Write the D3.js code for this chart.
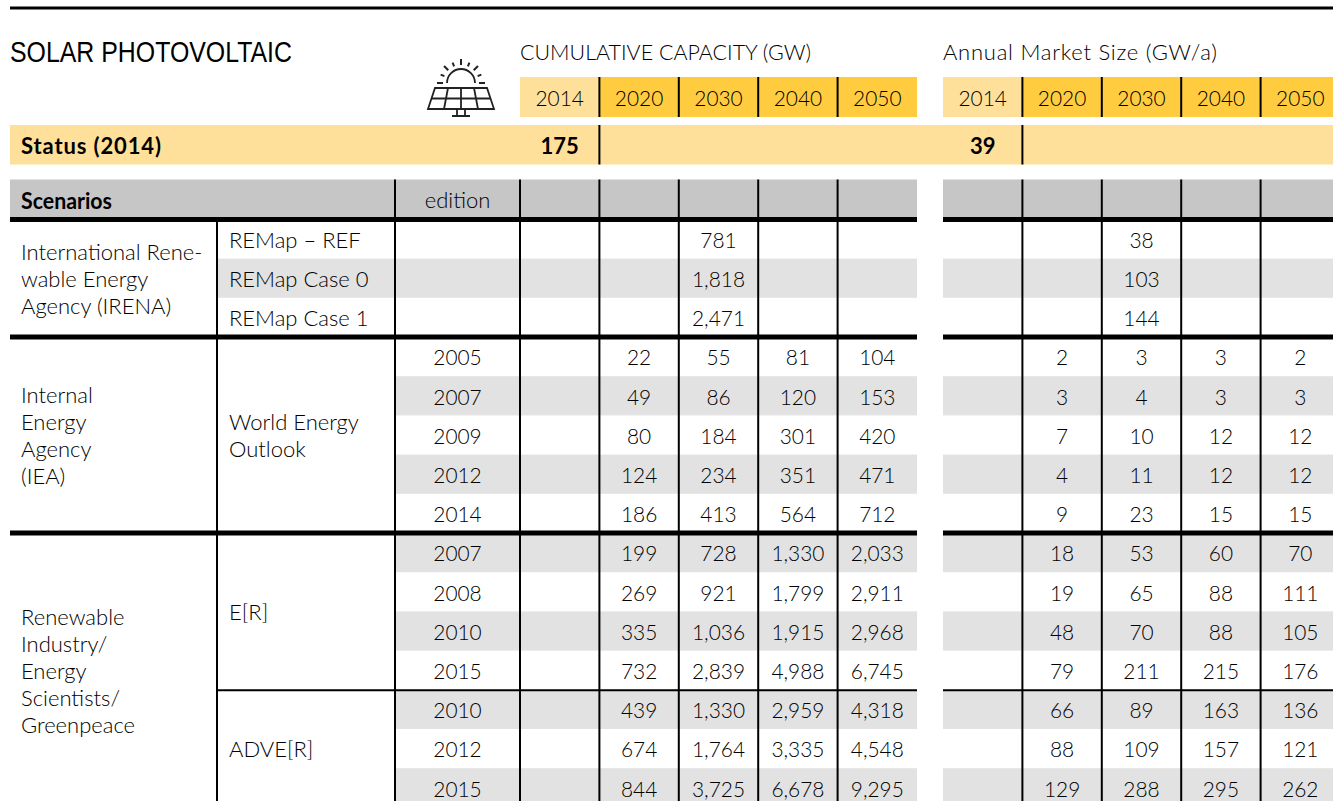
<!DOCTYPE html>
<html>
<head>
<meta charset="utf-8">
<script src="https://cdn.jsdelivr.net/npm/d3@7"></script>
<style>
  html, body { margin: 0; padding: 0; background: #fff; overflow: hidden; }
  svg { display: block; }
  text { font-family: Lato, "Open Sans", sans-serif; font-weight: 300; font-size: 22px; fill: #000; }
  .bold { font-weight: 700; }
  .title { font-family: "Liberation Sans", sans-serif; font-weight: 400; font-size: 29px; }
</style>
</head>
<body>
<div id="chart"></div>
<script>
// table content
const years = ["2014", "2020", "2030", "2040", "2050"];
const editions = ["", "", "", "2005", "2007", "2009", "2012", "2014", "2007", "2008", "2010", "2015", "2010", "2012", "2015"];
const shadedRows = [1, 4, 6, 8, 10, 12, 14];

const cum2020 = ["", "", "", "22", "49", "80", "124", "186", "199", "269", "335", "732", "439", "674", "844"];
const cum2030 = ["781", "1,818", "2,471", "55", "86", "184", "234", "413", "728", "921", "1,036", "2,839", "1,330", "1,764", "3,725"];
const cum2040 = ["", "", "", "81", "120", "301", "351", "564", "1,330", "1,799", "1,915", "4,988", "2,959", "3,335", "6,678"];
const cum2050 = ["", "", "", "104", "153", "420", "471", "712", "2,033", "2,911", "2,968", "6,745", "4,318", "4,548", "9,295"];

const ann2020 = ["", "", "", "2", "3", "7", "4", "9", "18", "19", "48", "79", "66", "88", "129"];
const ann2030 = ["38", "103", "144", "3", "4", "10", "11", "23", "53", "65", "70", "211", "89", "109", "288"];
const ann2040 = ["", "", "", "3", "3", "12", "12", "15", "60", "88", "88", "215", "163", "157", "295"];
const ann2050 = ["", "", "", "2", "3", "12", "12", "15", "70", "111", "105", "176", "136", "121", "262"];

const statusCum = "175";
const statusAnn = "39";

// [first row, last row, lines of text]
const groups = [
  [0, 2, ["International Rene-", "wable Energy", "Agency (IRENA)"]],
  [3, 7, ["Internal", "Energy", "Agency", "(IEA)"]],
  [8, 14, ["Renewable", "Industry/", "Energy", "Scientists/", "Greenpeace"]]
];
const subgroups = [
  [0, 0, ["REMap – REF"]],
  [1, 1, ["REMap Case 0"]],
  [2, 2, ["REMap Case 1"]],
  [3, 7, ["World Energy", "Outlook"]],
  [8, 11, ["E[R]"]],
  [12, 14, ["ADVE[R]"]]
];

// colours
const lightYellow = "#fee09a";
const darkYellow = "#ffcc40";
const headGrey = "#c6c6c6";
const rowGrey = "#e2e2e2";

// dimensions
const w = 1333;
const h = 801;
const left = 10;
const col1 = 217;
const col2 = 395;
const col3 = 520;
const lineH = 27;
const digitSqueeze = 0.95; // digits are a bit narrower than Lato's

const svg = d3.select("#chart").append("svg").attr("width", w).attr("height", h);

// scales
const rowIdx = d3.range(editions.length);
const yScale = d3.scaleBand().domain(rowIdx).range([219.4, 807.4]);
const xCum = d3.scaleBand().domain(years).range([col3, 917]);
const xAnn = d3.scaleBand().domain(years).range([943, 1340]);
const rowMid = i => yScale(i) + yScale.bandwidth() / 2;

// BACKGROUNDS
svg.append("rect").attr("x", left).attr("y", 6.5).attr("width", w - left).attr("height", 3).attr("fill", "#000");

// year header cells
[xCum, xAnn].forEach(x => {
  svg.append("g").selectAll("rect").data(years).enter().append("rect")
    .attr("x", d => x(d))
    .attr("y", 77)
    .attr("width", x.bandwidth())
    .attr("height", 40)
    .attr("fill", (d, i) => i === 0 ? lightYellow : darkYellow);
});

// status band
svg.append("rect").attr("x", left).attr("y", 125).attr("width", w - left).attr("height", 39.5).attr("fill", lightYellow);

// scenarios header
svg.append("rect").attr("x", left).attr("y", 179.5).attr("width", 917 - left).attr("height", 38).attr("fill", headGrey);
svg.append("rect").attr("x", 943).attr("y", 179.5).attr("width", w - 943).attr("height", 38).attr("fill", headGrey);

// shaded rows
const shade = svg.append("g");
shade.selectAll("rect.l").data(shadedRows).enter().append("rect").attr("class", "l")
  .attr("x", d => d < 3 ? col1 : col2)
  .attr("y", d => yScale(d))
  .attr("width", d => 917 - (d < 3 ? col1 : col2))
  .attr("height", yScale.bandwidth())
  .attr("fill", rowGrey);
shade.selectAll("rect.r").data(shadedRows).enter().append("rect").attr("class", "r")
  .attr("x", 943)
  .attr("y", d => yScale(d))
  .attr("width", w - 943)
  .attr("height", yScale.bandwidth())
  .attr("fill", rowGrey);

// RULES
const rules = svg.append("g").attr("stroke", "#000");
function vline(x, y1, y2) {
  rules.append("line").attr("x1", x).attr("x2", x).attr("y1", y1).attr("y2", y2).attr("stroke-width", 2);
}
function hline(x1, x2, y, sw) {
  rules.append("line").attr("x1", x1).attr("x2", x2).attr("y1", y).attr("y2", y).attr("stroke-width", sw);
}
vline(col1, 217, h);
vline(col2, 179.5, h);
vline(col3, 179.5, h);
[xCum, xAnn].forEach(x => {
  years.slice(1).forEach(yr => {
    vline(x(yr), 77, 117);
    if (yr === "2020") vline(x(yr), 125, 164.5);
    vline(x(yr), 179.5, h);
  });
});
[[left, 917], [943, w]].forEach(([a, b]) => {
  hline(a, b, 219.5, 5);
  hline(a, b, yScale(3), 5);
  hline(a, b, yScale(8), 5);
});
hline(col1, 917, yScale(12) + 0.4, 2);
hline(943, w, yScale(12) + 0.4, 2);

// TEXT
const txt = svg.append("g");
function label(x, y, s, anchor, cls) {
  return txt.append("text").attr("x", x).attr("y", y).attr("dy", "0.35em")
    .attr("text-anchor", anchor || "start").attr("class", cls || null).text(s);
}
// number label, squeezed sideways around its own centre
function num(x, y, s) {
  return txt.append("text").attr("transform", `translate(${x},${y}) scale(${digitSqueeze},1)`)
    .attr("dy", "0.35em").attr("text-anchor", "middle").text(s);
}
label(left, 52, "SOLAR PHOTOVOLTAIC", "start", "title")
  .attr("textLength", 282).attr("lengthAdjust", "spacingAndGlyphs");
label(col3, 52, "CUMULATIVE CAPACITY (GW)").attr("textLength", 291).attr("lengthAdjust", "spacingAndGlyphs");
label(943, 52, "Annual Market Size (GW/a)").attr("textLength", 274).attr("lengthAdjust", "spacing");

years.forEach(yr => {
  num(xCum(yr) + xCum.bandwidth() / 2, 98, yr);
  num(xAnn(yr) + xAnn.bandwidth() / 2, 98, yr);
});

label(21, 146, "Status (2014)", "start", "bold").attr("textLength", 140).attr("lengthAdjust", "spacing");
label(xCum("2014") + xCum.bandwidth() / 2, 146, statusCum, "middle", "bold");
label(xAnn("2014") + xAnn.bandwidth() / 2, 146, statusAnn, "middle", "bold");
label(21, 201, "Scenarios", "start", "bold").attr("textLength", 91).attr("lengthAdjust", "spacingAndGlyphs");
label((col2 + col3) / 2, 200, "edition", "middle");

// multi-line labels centred on the rows they span
function block(rows, x) {
  rows.forEach(([a, b, lines]) => {
    const mid = (rowMid(a) + rowMid(b)) / 2 + 1;
    lines.forEach((s, i) => label(x, mid + (i - (lines.length - 1) / 2) * lineH, s));
  });
}
block(groups, 21);
block(subgroups, 229);

editions.forEach((e, i) => num((col2 + col3) / 2, rowMid(i) + 1, e));

// value columns
const cumCols = [["2020", cum2020], ["2030", cum2030], ["2040", cum2040], ["2050", cum2050]];
const annCols = [["2020", ann2020], ["2030", ann2030], ["2040", ann2040], ["2050", ann2050]];
[[xCum, cumCols], [xAnn, annCols]].forEach(([x, cols]) => {
  cols.forEach(([yr, vals]) => {
    txt.append("g").selectAll("text").data(vals).enter().append("text")
      .attr("transform", (d, i) => `translate(${x(yr) + x.bandwidth() / 2},${rowMid(i) + 1}) scale(${digitSqueeze},1)`)
      .attr("dy", "0.35em")
      .attr("text-anchor", "middle")
      .text(d => d);
  });
});

// SOLAR PANEL ICON
const icon = svg.append("g").attr("transform", "translate(461, 83)")
  .attr("fill", "none").attr("stroke", "#222").attr("stroke-width", 1.8);
icon.append("path").attr("d", "M-14,0 A14,14 0 0 1 14,0");
d3.range(-90, 91, 22.5).forEach(a => {
  const r = a * Math.PI / 180;
  const r2 = a % 45 === 0 ? 24 : 22;
  icon.append("line")
    .attr("x1", 18 * Math.sin(r)).attr("y1", -18 * Math.cos(r))
    .attr("x2", r2 * Math.sin(r)).attr("y2", -r2 * Math.cos(r))
    .attr("stroke-width", 2);
});
icon.append("path").attr("d", "M-26,5 H26 L33,26 H-33 Z");
icon.append("path").attr("d", "M-29.5,15.5 H29.5 M-13,5 L-17,26 M0,5 V26 M13,5 L17,26");
icon.append("path").attr("d", "M-4,26 V33 M4,26 V33 M-9,33 H9");
</script>
</body>
</html>
